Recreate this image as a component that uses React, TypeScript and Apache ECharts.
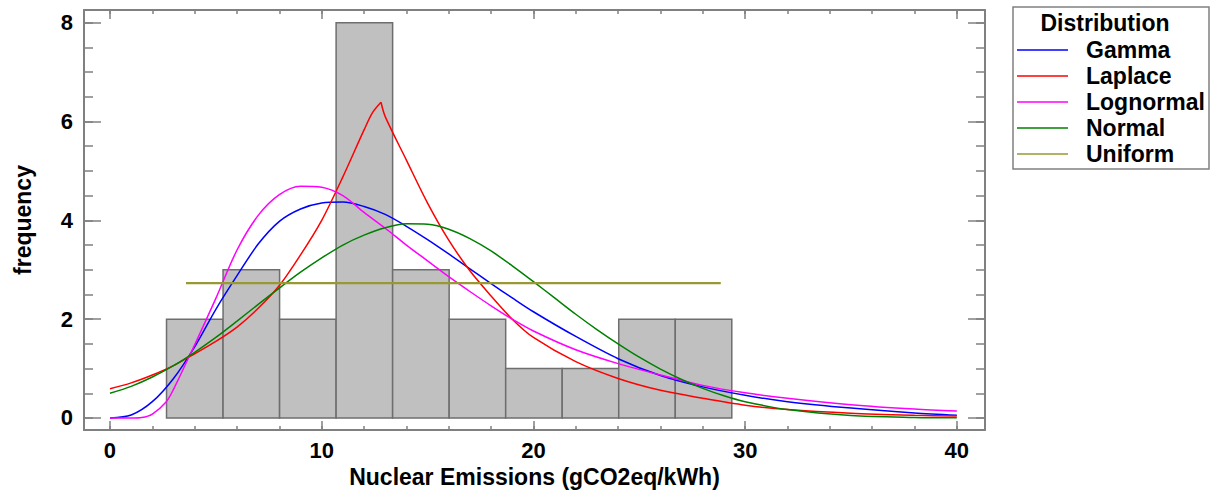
import React, { useEffect, useRef } from "react";
import * as echarts from "echarts";

// ---- data ----
const binStarts = [2.67, 5.34, 8.01, 10.68, 13.35, 16.02, 18.69, 21.36, 24.03, 26.7];
const binWidth = 2.67;
const binCounts = [2, 3, 2, 8, 3, 2, 1, 1, 2, 2];

const gammaPoints: [number, number][] = [
  [0, 0], [1, 0.06], [2, 0.33], [3, 0.8], [4, 1.44], [5, 2.2], [6, 2.88], [7, 3.52], [8, 3.98],
  [9, 4.23], [10, 4.35], [11, 4.37], [12, 4.28], [13, 4.12], [14, 3.88], [15, 3.61], [16, 3.32],
  [17, 3.02], [18, 2.72], [19, 2.43], [20, 2.15], [22, 1.65], [24, 1.2], [26, 0.86], [28, 0.63],
  [30, 0.46], [32, 0.33], [35, 0.2], [38, 0.1], [40, 0.055],
];
// Laplace drawn as two halves meeting at the sharp peak
const laplaceLeftPoints: [number, number][] = [
  [0, 0.59], [1, 0.71], [2, 0.87], [3, 1.06], [4, 1.3], [5, 1.55], [6, 1.84], [7, 2.22], [8, 2.68],
  [9, 3.3], [10, 4.0], [11, 4.88], [12, 5.83], [12.4, 6.18], [12.8, 6.39],
];
const laplaceRightPoints: [number, number][] = [
  [12.8, 6.39], [13, 6.1], [14, 5.22], [15, 4.35], [16, 3.6], [17, 2.98], [18, 2.47], [19, 2.0],
  [20, 1.63], [22, 1.14], [24, 0.8], [26, 0.56], [28, 0.4], [30, 0.26], [32, 0.17], [35, 0.095],
  [38, 0.055], [40, 0.04],
];
const lognormalPoints: [number, number][] = [
  [0, 0], [1, 0], [1.5, 0.01], [2, 0.08], [2.66, 0.33], [3, 0.58], [3.7, 1.21], [4, 1.48],
  [5, 2.42], [6, 3.4], [7, 4.1], [8, 4.52], [9, 4.69], [10, 4.67], [11, 4.5],
  [12, 4.16], [13, 3.84], [14, 3.5], [15, 3.18], [16, 2.86], [17, 2.56], [18, 2.27], [19, 2.0],
  [20, 1.76], [22, 1.38], [24, 1.1], [26, 0.87], [28, 0.66], [30, 0.51], [32, 0.4], [35, 0.27],
  [38, 0.18], [40, 0.14],
];
const normalPoints: [number, number][] = [
  [0, 0.5], [1, 0.64], [2, 0.83], [3, 1.06], [4, 1.33], [5, 1.63], [6, 1.96], [7, 2.3], [8, 2.63],
  [9, 2.95], [10, 3.24], [11, 3.5], [12, 3.7], [13, 3.85], [14, 3.93], [15, 3.92], [16, 3.82],
  [17, 3.63], [18, 3.38], [19, 3.08], [20, 2.76], [21, 2.43], [22, 2.1], [23, 1.79], [24, 1.5],
  [25, 1.23], [26, 0.99], [27, 0.78], [28, 0.6], [29, 0.45], [30, 0.33], [32, 0.17], [35, 0.05],
  [38, 0.012], [40, 0.004],
];
const uniformPoints: [number, number][] = [
  [3.59, 2.73], [28.85, 2.73],
];

const seriesNames = ["Gamma", "Laplace", "Lognormal", "Normal", "Uniform"];
const seriesColors = ["#0000ff", "#ff0000", "#ff00ff", "#008000", "#999933"];

const xMajorTicks = [0, 10, 20, 30, 40];
const xMinorTicks = [0, 2, 4, 6, 8, 10, 12, 14, 16, 18, 20, 22, 24, 26, 28, 30, 32, 34, 36, 38, 40];
const yMajorTicks = [0, 2, 4, 6, 8];
const yMinorTicks = [0, 0.5, 1, 1.5, 2, 2.5, 3, 3.5, 4, 4.5, 5, 5.5, 6, 6.5, 7, 7.5, 8];

const xTitle = "Nuclear Emissions (gCO2eq/kWh)";
const yTitle = "frequency";
const legendTitle = "Distribution";

const FONT = '"Liberation Sans", Arial, sans-serif';
const FRAME = "#808080";

export default function App() {
  const ref = useRef<HTMLDivElement>(null);

  useEffect(() => {
    if (!ref.current) return;
    const chart = echarts.init(ref.current, undefined, { renderer: "svg" });

    const xMin = -1.228;
    const xMax = 41.33;
    const yMin = -0.243;
    const yMax = 8.257;

    const frameLine = { show: true, onZero: false, lineStyle: { color: FRAME, width: 2 } };
    const noLine = { show: false, onZero: false };
    const tickStyle = { color: FRAME, width: 1.5 };
    const labelStyle = { color: "#000", fontSize: 22, fontWeight: "bold", fontFamily: FONT };

    const mkX = (pos: string, major: boolean, withLabels: boolean, extra: any = {}) => ({
      type: "value",
      min: xMin,
      max: xMax,
      position: pos,
      axisLine: major ? frameLine : noLine,
      axisTick: {
        show: true,
        inside: true,
        length: major ? 9 : 4,
        customValues: major ? xMajorTicks : xMinorTicks,
        lineStyle: tickStyle,
      },
      axisLabel: withLabels
        ? { show: true, customValues: xMajorTicks, margin: 9, ...labelStyle }
        : { show: false },
      splitLine: { show: false },
      ...extra,
    });
    const mkY = (pos: string, major: boolean, withLabels: boolean, extra: any = {}) => ({
      type: "value",
      min: yMin,
      max: yMax,
      position: pos,
      axisLine: major ? frameLine : noLine,
      axisTick: {
        show: true,
        inside: true,
        length: major ? 17 : 9,
        customValues: major ? yMajorTicks : yMinorTicks,
        lineStyle: tickStyle,
      },
      axisLabel: withLabels
        ? { show: true, customValues: yMajorTicks, margin: 11, ...labelStyle }
        : { show: false },
      splitLine: { show: false },
      ...extra,
    });

    const curves: { name: string; color: string; pts: [number, number][]; width: number; smooth: any }[] = [
      { name: seriesNames[0], color: seriesColors[0], pts: gammaPoints, width: 1.5, smooth: 0.3 },
      { name: seriesNames[1], color: seriesColors[1], pts: laplaceLeftPoints, width: 1.5, smooth: 0.3 },
      { name: seriesNames[1], color: seriesColors[1], pts: laplaceRightPoints, width: 1.5, smooth: 0.3 },
      { name: seriesNames[2], color: seriesColors[2], pts: lognormalPoints, width: 1.5, smooth: 0.3 },
      { name: seriesNames[3], color: seriesColors[3], pts: normalPoints, width: 1.5, smooth: 0.3 },
      { name: seriesNames[4], color: seriesColors[4], pts: uniformPoints, width: 2.2, smooth: false },
    ];

    const lineSeries = curves.map((c) => ({
      name: c.name,
      type: "line",
      data: c.pts,
      xAxisIndex: 0,
      yAxisIndex: 0,
      showSymbol: false,
      symbol: "none",
      smooth: c.smooth,
      lineStyle: { color: c.color, width: c.width },
      itemStyle: { color: c.color },
      z: 3,
    }));

    const histData = binStarts.map((s, i) => [s, s + binWidth, binCounts[i]]);

    chart.setOption({
      animation: false,
      backgroundColor: "#ffffff",
      textStyle: { fontFamily: FONT },
      grid: { left: 84, right: 233, top: 10, bottom: 67, containLabel: false },
      xAxis: [
        mkX("bottom", true, true, {
          name: xTitle,
          nameLocation: "middle",
          nameGap: 32,
          nameTextStyle: { color: "#000", fontSize: 23, fontWeight: "bold", fontFamily: FONT },
        }),
        mkX("bottom", false, false),
        mkX("top", true, false),
        mkX("top", false, false),
      ],
      yAxis: [
        mkY("left", true, true, {
          name: yTitle,
          nameLocation: "middle",
          nameGap: 50,
          nameTextStyle: { color: "#000", fontSize: 23, fontWeight: "bold", fontFamily: FONT },
        }),
        mkY("left", false, false),
        mkY("right", true, false),
        mkY("right", false, false),
      ],
      legend: {
        data: seriesNames,
        orient: "vertical",
        left: 1017,
        top: 38,
        padding: 0,
        icon: "rect",
        itemWidth: 51,
        itemHeight: 1.6,
        itemGap: 2,
        selectedMode: false,
        textStyle: {
          color: "#000",
          fontSize: 23,
          fontWeight: "bold",
          fontFamily: FONT,
          lineHeight: 24,
          padding: [0, 0, 0, 13],
        },
      },
      graphic: [
        {
          type: "rect",
          shape: { x: 1013, y: 7, width: 196, height: 162 },
          style: { fill: "#ffffff", stroke: FRAME, lineWidth: 1.5 },
          z: 0,
        },
        {
          type: "text",
          x: 1105,
          y: 23,
          style: {
            text: legendTitle,
            font: `bold 23px ${FONT}`,
            textAlign: "center",
            textVerticalAlign: "middle",
            fill: "#000",
          },
          z: 1,
        },
      ],
      series: [
        {
          name: "histogram",
          type: "custom",
          xAxisIndex: 0,
          yAxisIndex: 0,
          data: histData,
          encode: { x: [0, 1], y: 2 },
          z: 1,
          renderItem: (_params: any, api: any) => {
            const p0 = api.coord([api.value(0), api.value(2)]);
            const p1 = api.coord([api.value(1), 0]);
            return {
              type: "rect",
              shape: { x: p0[0], y: p0[1], width: p1[0] - p0[0], height: p1[1] - p0[1] },
              style: { fill: "#c0c0c0", stroke: "#6e6e6e", lineWidth: 1.5 },
            };
          },
        },
        ...lineSeries,
      ],
    });

    return () => chart.dispose();
  }, []);

  return (
    <div
      ref={ref}
      style={{ position: "fixed", left: 0, top: 0, width: 1218, height: 497, background: "#fff" }}
    />
  );
}
